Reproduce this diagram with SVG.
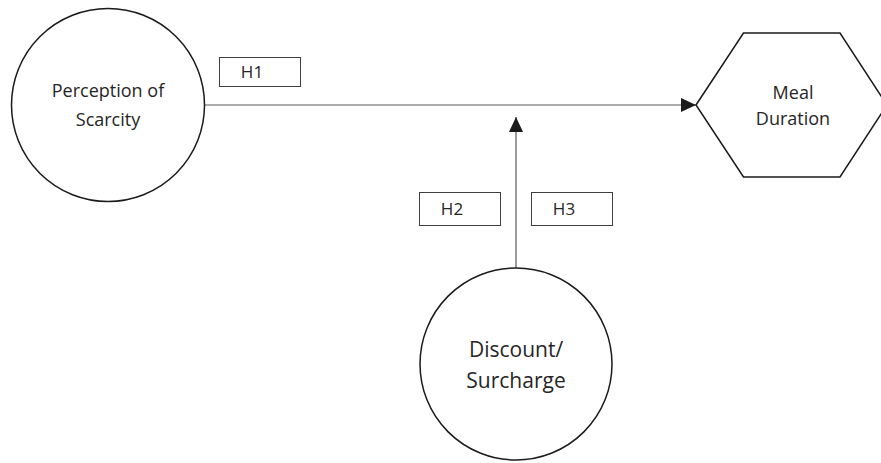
<svg xmlns="http://www.w3.org/2000/svg" width="881" height="463" viewBox="0 0 881 463">
  <style>
    .node { fill: #ffffff; stroke: #1a1a1a; stroke-width: 1.5; }
    .lbl { font-family: "Open Sans", "Liberation Sans", sans-serif; fill: #262626; text-anchor: middle; }
    .box { fill: #ffffff; stroke: #404040; stroke-width: 1; }
    .conn { fill: none; stroke: #595959; stroke-width: 1.2; }
  </style>
  <defs>
    <marker id="arrow" viewBox="0 0 15 14" refX="15" refY="7" markerWidth="15" markerHeight="14" markerUnits="userSpaceOnUse" orient="auto">
      <path d="M0,0 L15,7 L0,14 Z" fill="#1a1a1a"/>
    </marker>
  </defs>
  <rect width="881" height="463" fill="#ffffff"/>
  <g id="connectors">
    <line class="conn" x1="204" y1="105" x2="696" y2="105" marker-end="url(#arrow)"/>
    <line class="conn" x1="516" y1="268" x2="516" y2="117" marker-end="url(#arrow)"/>
  </g>
  <g id="perception">
    <circle class="node" cx="108" cy="105" r="96.5"/>
    <text class="lbl" x="108" y="96.5" font-size="18">Perception of</text>
    <text class="lbl" x="108" y="126" font-size="18">Scarcity</text>
  </g>
  <g id="meal">
    <polygon class="node" points="696,105 743.5,33 840,33 887,105 840,177 743.5,177"/>
    <text class="lbl" x="793" y="99" font-size="18">Meal</text>
    <text class="lbl" x="793" y="125" font-size="18">Duration</text>
  </g>
  <g id="discount">
    <circle class="node" cx="516" cy="364" r="96"/>
    <text class="lbl" x="516" y="357" font-size="21">Discount/</text>
    <text class="lbl" x="516" y="388" font-size="21">Surcharge</text>
  </g>
  <g id="h1">
    <rect class="box" x="219.5" y="57.5" width="81" height="29"/>
    <text class="lbl" x="252" y="78" font-size="17">H1</text>
  </g>
  <g id="h2">
    <rect class="box" x="419.5" y="192.5" width="81" height="33"/>
    <text class="lbl" x="452" y="215" font-size="17">H2</text>
  </g>
  <g id="h3">
    <rect class="box" x="531.5" y="192.5" width="81" height="33"/>
    <text class="lbl" x="564" y="215" font-size="17">H3</text>
  </g>
</svg>
